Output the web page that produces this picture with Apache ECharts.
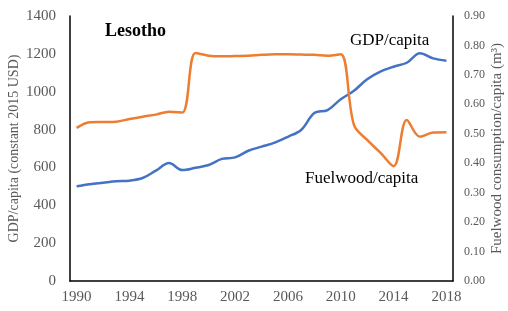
<!DOCTYPE html>
<html>
<head>
<meta charset="utf-8">
<script src="https://cdn.jsdelivr.net/npm/echarts@6/dist/echarts.min.js"></script>
<style>
html, body { margin: 0; padding: 0; background: #fff; }
#main { width: 508px; height: 311px; }
</style>
</head>
<body>
<div id="main"></div>
<script>
var years = [];
for (var y = 1990; y <= 2018; y++) years.push(String(y));

// GDP per capita, constant 2015 USD
var gdp = [500, 511, 519, 527, 530, 544, 583, 623, 586, 598, 613, 645, 653, 688, 710,
           731, 762, 798, 887, 903, 960, 1005, 1066, 1106, 1132, 1153, 1203, 1176, 1164];
// Fuelwood consumption per capita, m3
var fuelwood = [0.52, 0.539, 0.54, 0.541, 0.55, 0.558, 0.565, 0.575, 0.572, 0.774, 0.765, 0.763, 0.764, 0.765, 0.768,
                0.77, 0.77, 0.769, 0.768, 0.765, 0.77, 0.53, 0.479, 0.436, 0.39, 0.547, 0.49, 0.504, 0.505];

var serif = 'Liberation Serif';
var grey = '#595959';

var myChart = echarts.init(document.getElementById('main'));
var option = {
    animation: false,
    textStyle: { fontFamily: serif },
    grid: { left: 70, right: 55, top: 16, bottom: 30, containLabel: false, outerBoundsMode: 'none' },
    xAxis: {
        type: 'category',
        data: years,
        boundaryGap: true,
        axisLine: { lineStyle: { color: '#000', width: 1.5 } },
        axisTick: { show: false },
        axisLabel: { interval: 3, color: grey, fontSize: 15, fontFamily: serif, margin: 9 }
    },
    yAxis: [
        {
            type: 'value',
            min: 0, max: 1400, interval: 200,
            name: 'GDP/capita (constant 2015 USD)',
            nameLocation: 'middle',
            nameGap: 49,
            nameMoveOverlap: false,
            nameTextStyle: { color: grey, fontSize: 14, fontFamily: serif },
            axisLine: { show: true, lineStyle: { color: '#000', width: 1.5 } },
            axisTick: { show: false },
            splitLine: { show: false },
            axisLabel: {
                color: grey, fontSize: 15, fontFamily: serif, margin: 14,
                formatter: function (v) { return String(v); }
            }
        },
        {
            type: 'value',
            min: 0, max: 0.9, interval: 0.1,
            name: 'Fuelwood consumption/capita (m³)',
            nameLocation: 'middle',
            nameGap: 37,
            nameRotate: 90,
            nameMoveOverlap: false,
            nameTextStyle: { color: grey, fontSize: 15, fontFamily: serif },
            axisLine: { show: true, lineStyle: { color: '#000', width: 1.5 } },
            axisTick: { show: false },
            splitLine: { show: false },
            axisLabel: {
                color: grey, fontSize: 12, fontFamily: serif, margin: 11,
                formatter: function (v) { return v.toFixed(2); }
            }
        }
    ],
    graphic: [
        { type: 'text', left: 105, top: 22, style: { text: 'Lesotho', font: 'bold 18px "Liberation Serif"', fill: '#000' } },
        { type: 'text', left: 350, top: 32, style: { text: 'GDP/capita', font: '17px "Liberation Serif"', fill: '#000' } },
        { type: 'text', left: 305, top: 170, style: { text: 'Fuelwood/capita', font: '17px "Liberation Serif"', fill: '#000' } }
    ],
    series: [
        {
            name: 'GDP/capita',
            type: 'line',
            yAxisIndex: 0,
            data: gdp,
            smooth: 0.35,
            showSymbol: false,
            lineStyle: { color: '#4472C4', width: 2.5 },
            itemStyle: { color: '#4472C4' }
        },
        {
            name: 'Fuelwood/capita',
            type: 'line',
            yAxisIndex: 1,
            data: fuelwood,
            smooth: 0.35,
            showSymbol: false,
            lineStyle: { color: '#ED7D31', width: 2.5 },
            itemStyle: { color: '#ED7D31' }
        }
    ]
};
myChart.setOption(option);
</script>
</body>
</html>
